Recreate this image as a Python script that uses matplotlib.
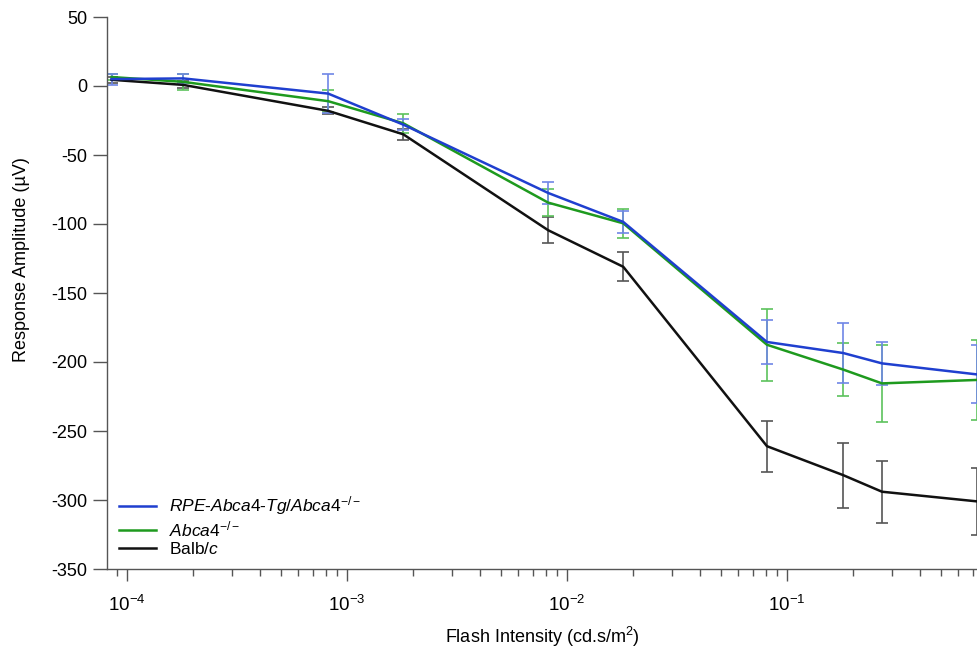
import matplotlib
matplotlib.use("Agg")
import matplotlib.pyplot as plt
import numpy as np
from matplotlib.ticker import LogLocator, NullFormatter, MultipleLocator

plt.rcParams['font.family'] = ['Liberation Sans', 'DejaVu Sans']
plt.rcParams['mathtext.fontset'] = 'custom'
plt.rcParams['mathtext.rm'] = 'Liberation Sans'
plt.rcParams['mathtext.it'] = 'Liberation Sans:italic'
plt.rcParams['mathtext.sf'] = 'Liberation Sans'
plt.rcParams['axes.unicode_minus'] = False

# Data
flash = [8.5e-5, 1.8e-4, 8.2e-4, 1.8e-3, 8.2e-3, 1.8e-2, 8.1e-2, 1.8e-1, 2.7e-1, 7.3e-1]

rpe_mean = [5, 5.5, -5.5, -28, -77.5, -98.5, -185.5, -193.5, -201, -209]
rpe_err = [4, 3, 14, 4, 8, 8, 16, 22, 15.5, 21]

abca_mean = [6.5, 3, -11, -27, -84.5, -99.5, -187.5, -205.5, -215.5, -213]
abca_err = [2, 6, 8, 7, 10, 10.5, 26, 19, 28, 29]

balb_mean = [4.5, 0.8, -18, -35, -104.5, -131, -261, -282, -294, -301]
balb_err = [2, 2.5, 2.5, 4, 9.5, 10.5, 18.5, 23.5, 22.5, 24.5]

series = [
    ("Balb/$c$", balb_mean, balb_err, "#111111", "#555555"),
    ("$Abca4^{-/-}$", abca_mean, abca_err, "#1e9a1e", "#5cc25c"),
    ("$RPE$-$Abca4$-$Tg/Abca4^{-/-}$", rpe_mean, rpe_err, "#1f3fcf", "#6f86e6"),
]

fig = plt.figure(figsize=(9.77, 6.56), dpi=100)
ax = fig.add_axes([107/977, 1-569/656, 1-107/977, (569-17)/656])

handles = {}
for label, m, e, c, ec in series:
    ax.errorbar(flash, m, yerr=e, fmt='none', ecolor=ec, elinewidth=1.2,
                capsize=4.3, capthick=1.2, zorder=2)
    ln, = ax.plot(flash, m, color=c, lw=1.8, zorder=3, label=label)
    handles[label] = ln

ax.set_xscale('log')
ax.set_xlim(8.1e-5, 7.3e-1)
ax.set_ylim(-350, 50)
ax.yaxis.set_major_locator(MultipleLocator(50))
ax.xaxis.set_major_locator(LogLocator(base=10, numticks=10))
ax.xaxis.set_minor_locator(LogLocator(base=10, subs=np.arange(2, 10), numticks=20))
ax.xaxis.set_minor_formatter(NullFormatter())

for s in ['top', 'right']:
    ax.spines[s].set_visible(False)
for s in ['left', 'bottom']:
    ax.spines[s].set_color('#555555')
    ax.spines[s].set_linewidth(1.0)

ax.tick_params(axis='y', which='major', direction='out', length=10, width=1,
               color='#555555', labelsize=13, pad=4)
ax.tick_params(axis='x', which='major', direction='out', length=8.6, width=1,
               color='#555555', labelsize=13.5, pad=10)
ax.tick_params(axis='x', which='minor', direction='out', length=5, width=1,
               color='#555555')

ax.set_ylabel('Response Amplitude (µV)', fontsize=13)
ax.yaxis.set_label_coords(-0.088, 0.56)
ax.set_xlabel('Flash Intensity (cd.s/m$^2$)', fontsize=13)
ax.xaxis.set_label_coords(0.5, -0.134)
ax.xaxis.label.set_va('baseline')

order = ["$RPE$-$Abca4$-$Tg/Abca4^{-/-}$", "$Abca4^{-/-}$", "Balb/$c$"]
leg = ax.legend([handles[k] for k in order], order, loc='lower left',
                bbox_to_anchor=(0.0, 0.0), frameon=False, fontsize=12.5,
                handlelength=2.1, handletextpad=0.75, labelspacing=0.1,
                borderaxespad=0.3)

fig.savefig('out.png', dpi=100)
